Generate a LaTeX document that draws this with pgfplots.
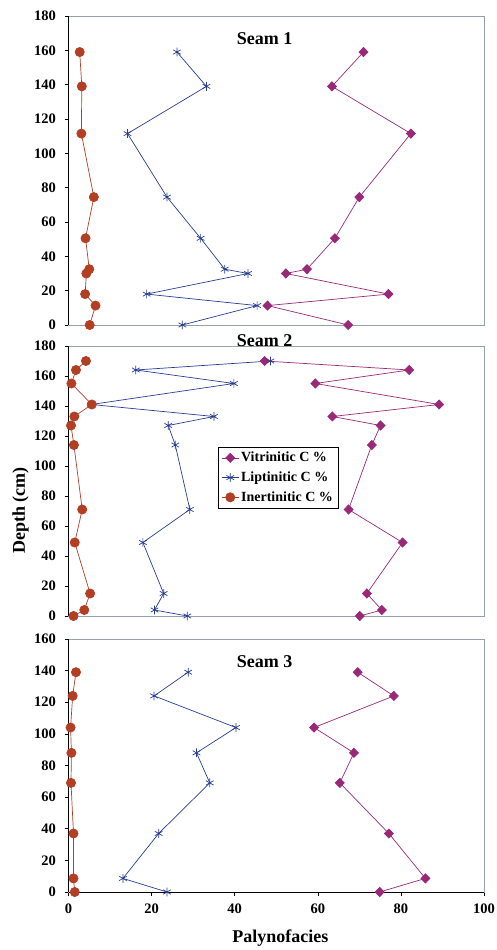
\documentclass[border=0pt]{standalone}
\usepackage{pgfplots}
\pgfplotsset{compat=1.18}
\usepackage{fontspec}
\setmainfont{Liberation Serif}
\definecolor{vit}{RGB}{153,41,120}
\definecolor{lip}{RGB}{40,62,150}
\definecolor{ine}{RGB}{178,62,36}
\definecolor{framec}{RGB}{150,160,172}
\pgfplotsset{
 seam/.style={
  scale only axis, width=415.5pt, xmin=0, xmax=100, ymin=0,
  axis line style={framec, line width=0.9pt},
  clip=false,
  tick align=outside, ytick pos=left, xtick pos=bottom,
  major tick length=4pt,
  tick style={black, line width=0.6pt},
  ticklabel style={font=\fontsize{14.5}{14.5}\selectfont\bfseries},
  yticklabel style={xshift=-5pt},
  xticklabel style={yshift=-4pt},
  /pgf/number format/assume math mode=true,
  anchor=south west,
 },
 vits/.style={vit, line width=0.7pt, mark=diamond*, mark size=4.6pt, mark options={xscale=1.3, solid, fill=vit}},
 lips/.style={lip, line width=0.7pt, mark=asterisk, mark size=4.4pt, mark options={solid, line width=0.7pt}},
 ines/.style={ine, line width=0.7pt, mark=*, mark size=4.6pt, mark options={solid, fill=ine}},
}
\begin{document}
\begin{tikzpicture}
\useasboundingbox (0pt,0pt) rectangle (496pt,950pt);
% ---------- Seam 1 ----------
\begin{axis}[seam, at={(68.5pt,625pt)}, height=309pt, ymax=180, ytick={0,20,...,180}, xtick=\empty]
\addplot[vits] coordinates {(71.0,159) (63.4,139) (82.4,111.5) (70.0,74.5) (64.1,50.5) (57.4,32.5) (52.3,30) (77.0,18) (47.9,11.3) (67.3,0)};
\addplot[lips] coordinates {(26.1,159) (33.2,139) (14.2,111.5) (23.7,74.5) (31.8,50.5) (37.6,32.5) (43.2,30) (18.8,18) (45.4,11.3) (27.4,0)};
\addplot[ines] coordinates {(2.7,159) (3.2,139) (3.1,111.5) (6.1,74.5) (4.1,50.5) (5.0,32.5) (4.3,30) (4.0,18) (6.5,11.3) (5.1,0)};
\draw[black, line width=0.9pt] (rel axis cs:0,0) -- (rel axis cs:0,1);
\node[font=\fontsize{18}{18}\selectfont\bfseries] at (rel axis cs:0.472,0.926) {Seam 1};
\end{axis}
% ---------- Seam 2 ----------
\begin{axis}[seam, at={(68.5pt,334pt)}, height=270pt, ymax=180, ytick={0,20,...,180}, xtick=\empty,
  legend style={at={(rel axis cs:0.36,0.626)}, anchor=north west, draw=black, line width=0.6pt,
    font=\fontsize{14}{14}\selectfont\bfseries, row sep=4.5pt, inner sep=3pt, cells={anchor=west}},
  legend cell align=left]
\addplot[vits] coordinates {(47.2,170) (82.0,164) (59.4,155) (89.2,141) (63.5,133) (75.1,127) (73.0,114) (67.4,71) (80.4,49) (71.8,15) (75.4,4) (70.1,0)};
\addlegendentry{Vitrinitic C \%}
\addplot[lips] coordinates {(48.6,170) (16.2,164) (39.8,155) (5.5,141) (35.0,133) (24.0,127) (25.7,114) (29.2,71) (17.9,49) (22.9,15) (20.7,4) (28.6,0)};
\addlegendentry{Liptinitic C \%}
\addplot[ines] coordinates {(4.2,170) (1.8,164) (0.7,155) (5.6,141) (1.4,133) (0.6,127) (1.3,114) (3.3,71) (1.5,49) (5.2,15) (3.8,4) (1.2,0)};
\addlegendentry{Inertinitic C \%}
\draw[black, line width=0.9pt] (rel axis cs:0,0) -- (rel axis cs:0,1);
\node[font=\fontsize{18}{18}\selectfont\bfseries] at (rel axis cs:0.472,1.019) {Seam 2};
\node[font=\fontsize{18}{18}\selectfont\bfseries, rotate=90] at ([xshift=-48pt]rel axis cs:0,0.39) {Depth (cm)};
\end{axis}
% ---------- Seam 3 ----------
\begin{axis}[seam, at={(68.5pt,58pt)}, height=253pt, ymax=160, ytick={0,20,...,160}, xtick={0,20,...,100}]
\addplot[vits] coordinates {(69.6,139) (78.3,124) (59.1,104) (68.7,88) (65.3,69) (77.1,37) (85.9,8.6) (74.9,0)};
\addplot[lips] coordinates {(28.8,139) (20.6,124) (40.3,104) (30.8,88) (34.0,69) (21.7,37) (13.1,8.6) (23.7,0)};
\addplot[ines] coordinates {(1.8,139) (1.0,124) (0.5,104) (0.7,88) (0.6,69) (1.2,37) (1.2,8.6) (1.5,0)};
\draw[black, line width=0.9pt] (rel axis cs:0,0) -- (rel axis cs:0,1);
\draw[black, line width=0.9pt] (rel axis cs:0,0) -- (rel axis cs:1,0);
\node[font=\fontsize{18}{18}\selectfont\bfseries] at (rel axis cs:0.472,0.909) {Seam 3};
\node[font=\fontsize{18}{18}\selectfont\bfseries] at (rel axis cs:0.51,0) [yshift=-46pt] {Palynofacies};
\end{axis}
\end{tikzpicture}
\end{document}
